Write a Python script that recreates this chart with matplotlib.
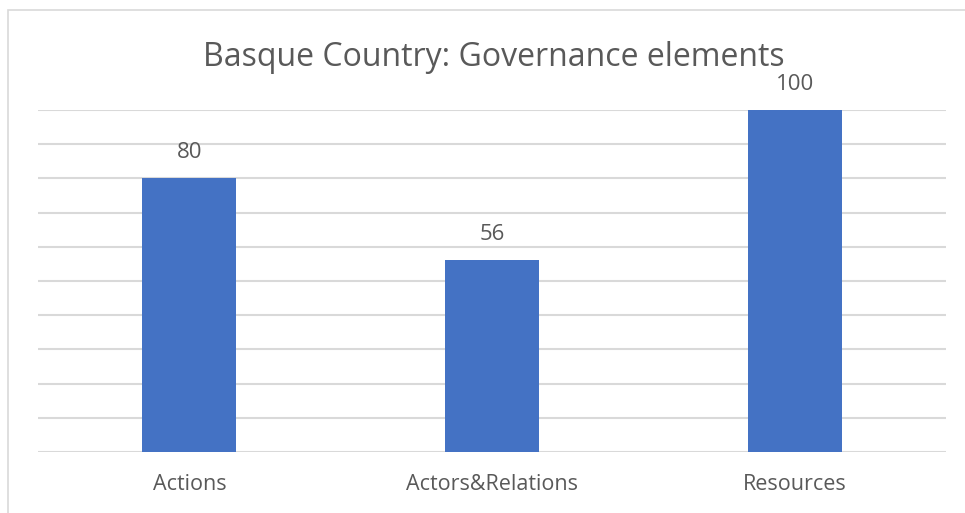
import matplotlib.pyplot as plt
from matplotlib.patches import Rectangle

categories = ['Actions', 'Actors&Relations', 'Resources']
values = [80, 56, 100]

plt.rcParams['font.family'] = ['Open Sans', 'DejaVu Sans']
text_color = '#595959'
grid_color = '#d9d9d9'

fig = plt.figure(figsize=(9.65, 5.13), dpi=100)
W, H = 965, 513
ax = fig.add_axes([38 / W, 1 - 452 / H, (946 - 38) / W, (452 - 110) / H])

x = range(len(categories))
bars = ax.bar(x, values, width=0.31, color='#4472C4', zorder=3)
for b, v in zip(bars, values):
    ax.text(b.get_x() + b.get_width() / 2, v + 7.5, str(v), ha='center', va='center',
            fontsize=16, color=text_color)

ax.set_xlim(-0.5, len(categories) - 0.5)
ax.set_ylim(0, 100)
ax.set_yticks(range(0, 101, 10))
ax.yaxis.grid(True, color=grid_color, linewidth=1.5, zorder=0)
ax.set_yticklabels([])
ax.tick_params(axis='y', length=0)
ax.tick_params(axis='x', length=0, pad=16, labelsize=15.5, labelcolor=text_color)
ax.set_xticks(list(x))
ax.set_xticklabels(categories)
for s in ax.spines.values():
    s.set_visible(False)

fig.text(494 / W, 1 - 58 / H, 'Basque Country: Governance elements', ha='center', va='center',
         fontsize=23, color=text_color)

# chart border
fig.patches.append(Rectangle((8 / W, -0.1), 1.2, 1 - 10 / H + 0.1, transform=fig.transFigure,
                             fill=False, edgecolor=grid_color, linewidth=1.2))

fig.savefig('out.png', dpi=100)
